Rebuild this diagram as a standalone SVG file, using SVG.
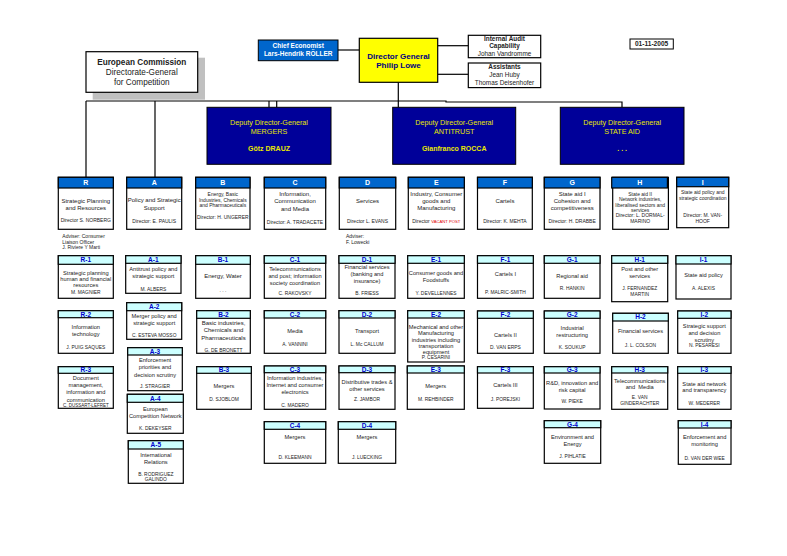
<svg xmlns="http://www.w3.org/2000/svg" width="787" height="556" viewBox="0 0 787 556">
<style>
text{font-family:'Liberation Sans',Arial,sans-serif;text-anchor:middle;fill:#222}
.u{font-size:5.7px}
.n{font-size:4.9px}
.c{font-size:6px}
.s{font-size:5px}
.hl{font-size:6.5px;font-weight:bold;fill:#0000CC}
.cl{font-size:7px;font-weight:bold;fill:#fff}
.cb{fill:#0066CC;stroke:#000;stroke-width:1.2}
.bx{fill:#fff;stroke:#000;stroke-width:1.2}
.uh{fill:#CCFFFF;stroke:#000;stroke-width:1.2}
.dp{fill:#000099;stroke:#000;stroke-width:1}
.dt{font-size:7.2px;fill:#E8E800}
.ln{fill:none;stroke:#000;stroke-width:1.2}
.b{font-weight:bold}
</style>
<rect width="787" height="556" fill="#fff"/>

<g id="connectors">
<line class="ln" x1="338" y1="50" x2="359.3" y2="50"/>
<line class="ln" x1="437.7" y1="45.7" x2="468.3" y2="45.7"/>
<line class="ln" x1="437.7" y1="74.3" x2="468.3" y2="74.3"/>
<line class="ln" x1="398.3" y1="82.3" x2="398.3" y2="107.3"/>
<polyline class="ln" points="86,101 446,101 446,102 622,102 622,107.3"/>
<line class="ln" x1="86" y1="101" x2="86" y2="177.3"/>
<line class="ln" x1="155" y1="101" x2="155" y2="177.3"/>
<line class="ln" x1="269" y1="101" x2="269" y2="107.3"/>
<line class="ln" x1="276.7" y1="101" x2="276.7" y2="107.3"/>
</g>

<g id="ec">
<rect x="92.7" y="57.7" width="112.3" height="42" fill="#C0C0C0"/>
<rect x="86" y="51.7" width="111.7" height="40.6" fill="#fff" stroke="#000" stroke-width="1.2"/>
<text x="141.8" y="65" style="font-size:8.2px;font-weight:bold">European Commission</text>
<text x="141.8" y="75.2" style="font-size:8.2px">Directorate-General</text>
<text x="141.8" y="84.6" style="font-size:8.2px">for Competition</text>
</g>

<g id="chief-economist">
<rect x="258.3" y="40" width="79.7" height="20.7" fill="#0066CC" stroke="#000" stroke-width="1"/>
<text x="298.2" y="48.2" style="font-size:6.5px;font-weight:bold;fill:#fff">Chief Economist</text>
<text x="298.2" y="56.4" style="font-size:6.5px;font-weight:bold;fill:#fff">Lars-Hendrik RÖLLER</text>
</g>

<g id="dg">
<rect x="359.3" y="38.3" width="78.4" height="44" fill="#FFFF00" stroke="#000" stroke-width="1.2"/>
<text x="398.5" y="58.5" style="font-size:8px;font-weight:bold;fill:#000080">Director General</text>
<text x="398.5" y="68.1" style="font-size:8px;font-weight:bold;fill:#000080">Philip Lowe</text>
</g>

<g id="audit">
<rect x="468.3" y="35.3" width="72.4" height="22.4" fill="#fff" stroke="#000" stroke-width="1.2"/>
<text x="504.5" y="41" style="font-size:6.4px;font-weight:bold">Internal Audit</text>
<text x="504.5" y="48.4" style="font-size:6.4px;font-weight:bold">Capability</text>
<text x="504.5" y="55.7" style="font-size:6.4px">Johan Vandromme</text>
</g>

<g id="assistants">
<rect x="468.3" y="63" width="72.4" height="24.6" fill="#fff" stroke="#000" stroke-width="1.2"/>
<text x="504.5" y="68.8" style="font-size:6.4px;font-weight:bold">Assistants</text>
<text x="504.5" y="77" style="font-size:6.4px">Jean Huby</text>
<text x="504.5" y="85" style="font-size:6.4px">Thomas Deisenhofer</text>
</g>

<g id="date">
<rect x="630" y="39" width="43.3" height="10" fill="#fff" stroke="#000" stroke-width="1"/>
<text x="651.6" y="46.3" style="font-size:6.6px;font-weight:bold">01-11-2005</text>
</g>

<g id="ddg-mergers">
<rect class="dp" x="207" y="107.3" width="124" height="57"/>
<text class="dt" x="269" y="124.8">Deputy Director-General</text>
<text class="dt" x="269" y="133.5">MERGERS</text>
<text class="dt b" x="269" y="151.2" style="font-size:7px">Götz DRAUZ</text>
</g>
<g id="ddg-antitrust">
<rect class="dp" x="392.7" y="107.3" width="123" height="57"/>
<text class="dt" x="454.2" y="124.8">Deputy Director-General</text>
<text class="dt" x="454.2" y="133.5">ANTITRUST</text>
<text class="dt b" x="454.2" y="151.2" style="font-size:7px">Gianfranco ROCCA</text>
</g>
<g id="ddg-stateaid">
<rect class="dp" x="560.3" y="107.3" width="123.7" height="57"/>
<text class="dt" x="622.2" y="124.8">Deputy Director-General</text>
<text class="dt" x="622.2" y="133.5">STATE AID</text>
<text class="dt b" x="622.2" y="151.2" style="font-size:7px">. . .</text>
</g>

<!-- Directorates -->
<g id="R">
<rect class="bx" x="58.3" y="177.3" width="55" height="52"/><rect class="cb" x="58.3" y="177.3" width="55" height="10.7"/>
<text class="cl" x="85.8" y="185.2">R</text>
<text class="c" x="85.8" y="203">Strategic Planning</text>
<text class="c" x="85.8" y="210.3">and Resources</text>
<text class="s" x="85.8" y="221.7">Director S. NORBERG</text>
</g>
<g id="R-adviser">
<text class="s" x="62.3" y="238.4" style="text-anchor:start">Adviser: Consumer</text>
<text class="s" x="62.3" y="244" style="text-anchor:start">Liaison Officer</text>
<text class="s" x="62.3" y="249.4" style="text-anchor:start">J. Riviere Y Marti</text>
</g>
<g id="A">
<rect class="bx" x="126.7" y="177.3" width="55" height="52"/><rect class="cb" x="126.7" y="177.3" width="55" height="10.7"/>
<text class="cl" x="154.2" y="185.2">A</text>
<text class="c" x="154.2" y="202">Policy and Strategic</text>
<text class="c" x="154.2" y="209.7">Support</text>
<text class="s" x="154.2" y="223.4">Director: E. PAULIS</text>
</g>
<g id="B">
<rect class="bx" x="195.7" y="177.3" width="54.3" height="52"/><rect class="cb" x="195.7" y="177.3" width="54.3" height="10.7"/>
<text class="cl" x="222.85" y="185.2">B</text>
<text class="s" x="222.85" y="195.7">Energy, Basic</text>
<text class="s" x="222.85" y="201.7">Industries, Chemicals</text>
<text class="s" x="222.85" y="206.9">and Pharmaceuticals</text>
<text class="s" x="222.85" y="219.4">Director: H. UNGERER</text>
</g>
<g id="C">
<rect class="bx" x="264.3" y="177.3" width="61.4" height="52"/><rect class="cb" x="264.3" y="177.3" width="61.4" height="10.7"/>
<text class="cl" x="295" y="185.2">C</text>
<text class="c" x="295" y="196.3">Information,</text>
<text class="c" x="295" y="203.3">Communication</text>
<text class="c" x="295" y="210.7">and Media</text>
<text class="s" x="295" y="224">Director:  A. TRADACETE</text>
</g>
<g id="D">
<rect class="bx" x="339.3" y="177.3" width="56.4" height="52"/><rect class="cb" x="339.3" y="177.3" width="56.4" height="10.7"/>
<text class="cl" x="367.5" y="185.2">D</text>
<text class="c" x="367.5" y="203">Services</text>
<text class="s" x="367.5" y="222.7">Director L. EVANS</text>
</g>
<g id="D-adviser">
<text class="s" x="346" y="238.4" style="text-anchor:start">Adviser:</text>
<text class="s" x="346" y="244" style="text-anchor:start">F. Lowecki</text>
</g>
<g id="E">
<rect class="bx" x="408.3" y="177.3" width="56" height="52"/><rect class="cb" x="408.3" y="177.3" width="56" height="10.7"/>
<text class="cl" x="436.3" y="185.2">E</text>
<text class="c" x="436.3" y="196">Industry, Consumer</text>
<text class="c" x="436.3" y="203">goods and</text>
<text class="c" x="436.3" y="209.7">Manufacturing</text>
<text class="s" x="436.3" y="223.4">Director <tspan style="fill:#E00000;font-size:4.2px">VACANT POST</tspan></text>
</g>
<g id="F">
<rect class="bx" x="477.5" y="177.3" width="54.8" height="52"/><rect class="cb" x="477.5" y="177.3" width="54.8" height="10.7"/>
<text class="cl" x="504.9" y="185.2">F</text>
<text class="c" x="504.9" y="203">Cartels</text>
<text class="s" x="504.9" y="223.4">Director: K. MEHTA</text>
</g>
<g id="G">
<rect class="bx" x="544.3" y="177.3" width="55.7" height="52"/><rect class="cb" x="544.3" y="177.3" width="55.7" height="10.7"/>
<text class="cl" x="572.15" y="185.2">G</text>
<text class="c" x="572.15" y="196">State aid I</text>
<text class="c" x="572.15" y="203">Cohesion and</text>
<text class="c" x="572.15" y="209.7">competitiveness</text>
<text class="s" x="572.15" y="223.4">Director: H. DRABBE</text>
</g>
<g id="H">
<rect class="bx" x="612.7" y="177.3" width="55.7" height="52"/><rect class="cb" x="611.7" y="177.3" width="55.7" height="10.7"/>
<text class="cl" x="639.7" y="185.2">H</text>
<text class="s" x="640.2" y="195.5">State aid II</text>
<text class="s" x="640.2" y="201.2">Network industries,</text>
<text class="s" x="640.2" y="206.5">liberalised sectors and</text>
<text class="s" x="640.2" y="211.8">services</text>
<text class="s" x="640.2" y="217.2">Director: L. DORMAL-</text>
<text class="s" x="640.2" y="223.2">MARINO</text>
</g>
<g id="I">
<rect class="bx" x="676.7" y="177.3" width="52" height="50.4"/><rect class="cb" x="676.7" y="177.3" width="52" height="9.4"/>
<text class="cl" x="702.7" y="184.6">I</text>
<text class="s" x="702.7" y="194.4">State aid policy and</text>
<text class="s" x="702.7" y="199.7">strategic coordination</text>
<text class="s" x="702.7" y="217.4">Director: M. VAN-</text>
<text class="s" x="702.7" y="223.4">HOOF</text>
</g>

<!-- Units row 1 -->
<g id="R-1">
<rect class="bx" x="58.3" y="255.7" width="55" height="42.6"/><rect class="uh" x="58.3" y="255.7" width="55" height="8.6"/>
<text class="hl" x="85.8" y="262.3">R-1</text>
<text class="u" x="85.8" y="274.7">Strategic planning</text>
<text class="u" x="85.8" y="281.3">human and financial</text>
<text class="u" x="85.8" y="286.7">resources</text>
<text class="n" x="85.8" y="294.4">M. MAGNIER</text>
</g>
<g id="A-1">
<rect class="bx" x="125.7" y="255.7" width="55.3" height="37.6"/><rect class="uh" x="125.7" y="255.7" width="55.3" height="7.6"/>
<text class="hl" x="153.35" y="261.8">A-1</text>
<text class="u" x="153.35" y="271.3">Antitrust policy and</text>
<text class="u" x="153.35" y="278">strategic support</text>
<text class="n" x="153.35" y="291">M. ALBERS</text>
</g>
<g id="B-1">
<rect class="bx" x="195.7" y="255.7" width="54.6" height="42.6"/><rect class="uh" x="195.7" y="255.7" width="54.6" height="8.6"/>
<text class="hl" x="223" y="262.3">B-1</text>
<text class="u" x="223" y="277.7" style="font-size:6px">Energy, Water</text>
<text class="n" x="223" y="291.7">. . .</text>
</g>
<g id="C-1">
<rect class="bx" x="264.3" y="255.7" width="61.4" height="42.6"/><rect class="uh" x="264.3" y="255.7" width="61.4" height="7.6"/>
<text class="hl" x="295" y="261.8">C-1</text>
<text class="u" x="295" y="271.3">Telecommunications</text>
<text class="u" x="295" y="278">and post; information</text>
<text class="u" x="295" y="285">society coordination</text>
<text class="n" x="295" y="295">C. RAKOVSKY</text>
</g>
<g id="D-1">
<rect class="bx" x="339" y="255.7" width="56" height="42.6"/><rect class="uh" x="339" y="255.7" width="56" height="7.6"/>
<text class="hl" x="367" y="261.8">D-1</text>
<text class="u" x="367" y="269.3">Financial services</text>
<text class="u" x="367" y="276">(banking and</text>
<text class="u" x="367" y="282.7">insurance)</text>
<text class="n" x="367" y="295">B. FRIESS</text>
</g>
<g id="E-1">
<rect class="bx" x="407.7" y="255.7" width="56.6" height="42.6"/><rect class="uh" x="407.7" y="255.7" width="56.6" height="7.6"/>
<text class="hl" x="436" y="261.8">E-1</text>
<text class="u" x="436" y="275.3">Consumer goods and</text>
<text class="u" x="436" y="282">Foodstuffs</text>
<text class="n" x="436" y="295">Y. DEVELLENNES</text>
</g>
<g id="F-1">
<rect class="bx" x="477.5" y="255.7" width="55.8" height="42.6"/><rect class="uh" x="477.5" y="255.7" width="55.8" height="7.6"/>
<text class="hl" x="505.4" y="261.8">F-1</text>
<text class="u" x="505.4" y="276">Cartels I</text>
<text class="n" x="505.4" y="294">P. MALRIC-SMITH</text>
</g>
<g id="G-1">
<rect class="bx" x="544.3" y="255.7" width="55.7" height="42.6"/><rect class="uh" x="544.3" y="255.7" width="55.7" height="7.6"/>
<text class="hl" x="572.15" y="261.8">G-1</text>
<text class="u" x="572.15" y="278">Regional aid</text>
<text class="n" x="572.15" y="289.7">R. HANKIN</text>
</g>
<g id="H-1">
<rect class="bx" x="611.7" y="255.7" width="56" height="46"/><rect class="uh" x="611.7" y="255.7" width="56" height="7.6"/>
<text class="hl" x="639.7" y="261.8">H-1</text>
<text class="u" x="639.7" y="271.3">Post and other</text>
<text class="u" x="639.7" y="278.3">services</text>
<text class="n" x="639.7" y="290.4">J. FERNANDEZ</text>
<text class="n" x="639.7" y="296">MARTIN</text>
</g>
<g id="I-1">
<rect class="bx" x="676" y="255.7" width="55" height="43.3"/><rect class="uh" x="676" y="255.7" width="55" height="8.3"/>
<text class="hl" x="703.5" y="262.2">I-1</text>
<text class="u" x="703.5" y="277.3">State aid policy</text>
<text class="n" x="703.5" y="289.7">A. ALEXIS</text>
</g>

<!-- Units row 2 -->
<g id="R-2">
<rect class="bx" x="58.3" y="310.7" width="55" height="42.6"/><rect class="uh" x="58.3" y="310.7" width="55" height="7"/>
<text class="hl" x="85.8" y="316.5">R-2</text>
<text class="u" x="85.8" y="329.3">Information</text>
<text class="u" x="85.8" y="336.3">technology</text>
<text class="n" x="85.8" y="349.4">J. PUIG SAQUES</text>
</g>
<g id="A-2">
<rect class="bx" x="126.7" y="302.7" width="55" height="36.6"/><rect class="uh" x="126.7" y="302.7" width="55" height="8"/>
<text class="hl" x="154.2" y="309">A-2</text>
<text class="u" x="154.2" y="318">Merger policy and</text>
<text class="u" x="154.2" y="324.7">strategic support</text>
<text class="n" x="154.2" y="336.8">C. ESTEVA MOSSO</text>
</g>
<g id="B-2">
<rect class="bx" x="196.7" y="310.7" width="53.6" height="42.6"/><rect class="uh" x="196.7" y="310.7" width="53.6" height="7.6"/>
<text class="hl" x="223.5" y="316.8">B-2</text>
<text class="u" x="223.5" y="325.3" style="font-size:6px">Basic industries,</text>
<text class="u" x="223.5" y="332.3" style="font-size:6px">Chemicals and</text>
<text class="u" x="223.5" y="339.7" style="font-size:6px">Pharmaceuticals</text>
<text class="n" x="223.5" y="351.6">G. DE BRONETT</text>
</g>
<g id="C-2">
<rect class="bx" x="264.3" y="310.7" width="61.4" height="42.6"/><rect class="uh" x="264.3" y="310.7" width="61.4" height="7.3"/>
<text class="hl" x="295" y="316.6">C-2</text>
<text class="u" x="295" y="332.7">Media</text>
<text class="n" x="295" y="345.7">A. VANNINI</text>
</g>
<g id="D-2">
<rect class="bx" x="339" y="310.7" width="56" height="42.6"/><rect class="uh" x="339" y="310.7" width="56" height="7.3"/>
<text class="hl" x="367" y="316.6">D-2</text>
<text class="u" x="367" y="332.7">Transport</text>
<text class="n" x="367" y="345.7">L. Mc CALLUM</text>
</g>
<g id="E-2">
<rect class="bx" x="407.7" y="310.7" width="56.6" height="51.3"/><rect class="uh" x="407.7" y="310.7" width="56.6" height="7.3"/>
<text class="hl" x="436" y="316.6">E-2</text>
<text class="u" x="436" y="328.7">Mechanical and other</text>
<text class="u" x="436" y="335.3">Manufacturing</text>
<text class="u" x="436" y="342">industries including</text>
<text class="u" x="436" y="348.3">transportation</text>
<text class="u" x="436" y="354.3">equipment</text>
<text class="n" x="436" y="359.3">P. CESARINI</text>
</g>
<g id="F-2">
<rect class="bx" x="477.5" y="311" width="55.8" height="42.3"/><rect class="uh" x="477.5" y="311" width="55.8" height="7.3"/>
<text class="hl" x="505.4" y="316.9">F-2</text>
<text class="u" x="505.4" y="337">Cartels II</text>
<text class="n" x="505.4" y="349.4">D. VAN ERPS</text>
</g>
<g id="G-2">
<rect class="bx" x="544.3" y="311" width="55.7" height="42.3"/><rect class="uh" x="544.3" y="311" width="55.7" height="7.3"/>
<text class="hl" x="572.15" y="316.9">G-2</text>
<text class="u" x="572.15" y="330">Industrial</text>
<text class="u" x="572.15" y="337">restructuring</text>
<text class="n" x="572.15" y="349.4">K. SOUKUP</text>
</g>
<g id="H-2">
<rect class="bx" x="612.7" y="313.3" width="55.6" height="40"/><rect class="uh" x="612.7" y="313.3" width="55.6" height="7.7"/>
<text class="hl" x="640.5" y="319.4">H-2</text>
<text class="u" x="640.5" y="332.7">Financial services</text>
<text class="n" x="640.5" y="346.7">J. L. COLSON</text>
</g>
<g id="I-2">
<rect class="bx" x="677.7" y="311" width="53.3" height="42.3"/><rect class="uh" x="677.7" y="311" width="53.3" height="7.3"/>
<text class="hl" x="704.35" y="316.9">I-2</text>
<text class="u" x="704.35" y="328">Strategic support</text>
<text class="u" x="704.35" y="335">and decision</text>
<text class="u" x="704.35" y="341.7">scrutiny</text>
<text class="n" x="704.35" y="346.6">N. PESARESI</text>
</g>

<!-- Units row 3 -->
<g id="A-3">
<rect class="bx" x="127.7" y="347.7" width="54.6" height="43"/><rect class="uh" x="127.7" y="347.7" width="54.6" height="7.3"/>
<text class="hl" x="155" y="353.6">A-3</text>
<text class="u" x="155" y="362">Enforcement</text>
<text class="u" x="155" y="369.3">priorities and</text>
<text class="u" x="155" y="376.7">decision scrutiny</text>
<text class="n" x="155" y="388.2">J. STRAGIER</text>
</g>
<g id="R-3">
<rect class="bx" x="58.3" y="366.7" width="55" height="41.6"/><rect class="uh" x="58.3" y="366.7" width="55" height="6.6"/>
<text class="hl" x="85.8" y="372.3">R-3</text>
<text class="u" x="85.8" y="380.3">Document</text>
<text class="u" x="85.8" y="386.9">management,</text>
<text class="u" x="85.8" y="394.3">information and</text>
<text class="u" x="85.8" y="401.5">communication</text>
<text class="n" x="85.8" y="406.9" style="font-size:4.5px">C. DUSSART-LEFRET</text>
</g>
<g id="B-3">
<rect class="bx" x="196.7" y="366.7" width="54.6" height="42.6"/><rect class="uh" x="196.7" y="366.7" width="54.6" height="6.6"/>
<text class="hl" x="224" y="372.3">B-3</text>
<text class="u" x="224" y="388">Mergers</text>
<text class="n" x="224" y="401">D. SJOBLOM</text>
</g>
<g id="C-3">
<rect class="bx" x="264.3" y="366" width="61.4" height="43.3"/><rect class="uh" x="264.3" y="366" width="61.4" height="6.7"/>
<text class="hl" x="295" y="371.7">C-3</text>
<text class="u" x="295" y="379.7">Information industries,</text>
<text class="u" x="295" y="386.7">Internet and consumer</text>
<text class="u" x="295" y="393.7">electronics</text>
<text class="n" x="295" y="407.3">C. MADERO</text>
</g>
<g id="D-3">
<rect class="bx" x="339" y="366" width="56" height="43.3"/><rect class="uh" x="339" y="366" width="56" height="6.7"/>
<text class="hl" x="367" y="371.7">D-3</text>
<text class="u" x="367" y="383.7">Distributive trades &amp;</text>
<text class="u" x="367" y="390.7">other services</text>
<text class="n" x="367" y="400.7">Z. JAMBOR</text>
</g>
<g id="E-3">
<rect class="bx" x="407.3" y="366" width="57" height="43.3"/><rect class="uh" x="407.3" y="366" width="57" height="7"/>
<text class="hl" x="435.8" y="371.9">E-3</text>
<text class="u" x="435.8" y="388">Mergers</text>
<text class="n" x="435.8" y="400.7">M. REHBINDER</text>
</g>
<g id="F-3">
<rect class="bx" x="477.5" y="366.7" width="55.8" height="41.6"/><rect class="uh" x="477.5" y="366.7" width="55.8" height="6.3"/>
<text class="hl" x="505.4" y="372.2">F-3</text>
<text class="u" x="505.4" y="387">Cartels III</text>
<text class="n" x="505.4" y="401">J. POREJSKI</text>
</g>
<g id="G-3">
<rect class="bx" x="544.3" y="366.7" width="55.7" height="42.3"/><rect class="uh" x="544.3" y="366.7" width="55.7" height="6.3"/>
<text class="hl" x="572.15" y="372.2">G-3</text>
<text class="u" x="572.15" y="384.7">R&amp;D, innovation and</text>
<text class="u" x="572.15" y="391.7">risk capital</text>
<text class="n" x="572.15" y="402.7">W. PIEKE</text>
</g>
<g id="H-3">
<rect class="bx" x="611.7" y="366.7" width="56" height="42.6"/><rect class="uh" x="611.7" y="366.7" width="56" height="6.3"/>
<text class="hl" x="639.7" y="372.2">H-3</text>
<text class="u" x="639.7" y="382.7">Telecommunications</text>
<text class="u" x="639.7" y="389" xml:space="preserve">and  Media</text>
<text class="n" x="639.7" y="399.4">E. VAN</text>
<text class="n" x="639.7" y="405">GINDERACHTER</text>
</g>
<g id="I-3">
<rect class="bx" x="677.7" y="366.7" width="53.3" height="42.6"/><rect class="uh" x="677.7" y="366.7" width="53.3" height="6.6"/>
<text class="hl" x="704.35" y="372.3">I-3</text>
<text class="u" x="704.35" y="385.7">State aid network</text>
<text class="u" x="704.35" y="392.3">and transparency</text>
<text class="n" x="704.35" y="405">W. MEDERER</text>
</g>

<!-- Units row 4/5 -->
<g id="A-4">
<rect class="bx" x="127.3" y="394.3" width="56" height="39"/><rect class="uh" x="127.3" y="394.3" width="56" height="8"/>
<text class="hl" x="155.3" y="400.6">A-4</text>
<text class="u" x="155.3" y="411.3">European</text>
<text class="u" x="155.3" y="418">Competition Network</text>
<text class="n" x="155.3" y="430">K. DEKEYSER</text>
</g>
<g id="A-5">
<rect class="bx" x="128.3" y="440.7" width="55" height="42.6"/><rect class="uh" x="128.3" y="440.7" width="55" height="8.3"/>
<text class="hl" x="155.8" y="447.2">A-5</text>
<text class="u" x="155.8" y="456.7">International</text>
<text class="u" x="155.8" y="463.7">Relations</text>
<text class="n" x="155.8" y="475.7">B. RODRIGUEZ</text>
<text class="n" x="155.8" y="481.4">GALINDO</text>
</g>
<g id="C-4">
<rect class="bx" x="264.3" y="421.7" width="61.4" height="41.6"/><rect class="uh" x="264.3" y="421.7" width="61.4" height="7.6"/>
<text class="hl" x="295" y="427.8">C-4</text>
<text class="u" x="295" y="439.3">Mergers</text>
<text class="n" x="295" y="459">D. KLEEMANN</text>
</g>
<g id="D-4">
<rect class="bx" x="338.3" y="421.7" width="57.4" height="41.6"/><rect class="uh" x="338.3" y="421.7" width="57.4" height="7.6"/>
<text class="hl" x="367" y="427.8">D-4</text>
<text class="u" x="367" y="439.3">Mergers</text>
<text class="n" x="367" y="459">J. LUECKING</text>
</g>
<g id="G-4">
<rect class="bx" x="544.3" y="420.7" width="56.4" height="42.6"/><rect class="uh" x="544.3" y="420.7" width="56.4" height="7"/>
<text class="hl" x="572.5" y="426.5">G-4</text>
<text class="u" x="572.5" y="439.3">Environment and</text>
<text class="u" x="572.5" y="446">Energy</text>
<text class="n" x="572.5" y="457.7">J. PIHLATIE</text>
</g>
<g id="I-4">
<rect class="bx" x="678.3" y="420.7" width="52.7" height="43.6"/><rect class="uh" x="678.3" y="420.7" width="52.7" height="7.3"/>
<text class="hl" x="704.65" y="426.6">I-4</text>
<text class="u" x="704.65" y="439.3">Enforcement and</text>
<text class="u" x="704.65" y="446">monitoring</text>
<text class="n" x="704.65" y="459.7">D. VAN DER WEE</text>
</g>
</svg>
